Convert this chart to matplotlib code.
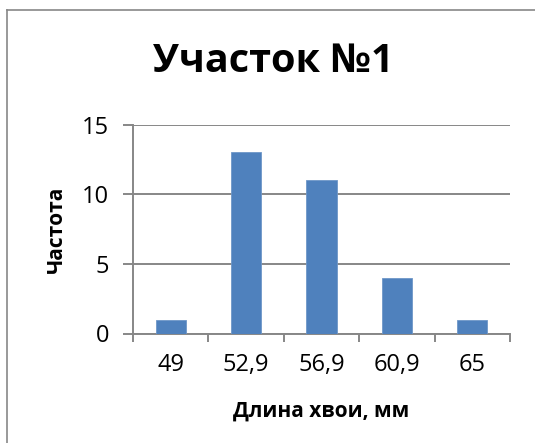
import matplotlib
matplotlib.use("Agg")
import matplotlib.pyplot as plt
from matplotlib.lines import Line2D

plt.rcParams['font.family'] = ['Open Sans', 'DejaVu Sans']

# data
categories = ["49", "52,9", "56,9", "60,9", "65"]
counts = [1, 13, 11, 4, 1]
y_ticks = [0, 5, 10, 15]

W, H = 535, 443
fig = plt.figure(figsize=(W / 100, H / 100), dpi=100)

# chart frame (left and top edges visible)
grey = "#878787"
fig.add_artist(Line2D([7 / W, 7 / W], [0, 1 - 10 / H], color=grey, lw=1.2,
                      transform=fig.transFigure))
fig.add_artist(Line2D([7 / W, 1], [1 - 10 / H, 1 - 10 / H], color=grey, lw=1.2,
                      transform=fig.transFigure))

ax = fig.add_axes([133 / W, (H - 333.5) / H, (510 - 133) / W, (333.5 - 124.6) / H])

x = list(range(len(categories)))
ax.bar(x, counts, width=0.4, color="#4F81BD", edgecolor="#6F97C8", lw=0.6, zorder=3)

ax.set_xlim(-0.5, len(categories) - 0.5)
ax.set_ylim(0, 15)
ax.set_yticks(y_ticks)
ax.yaxis.grid(True, color=grey, lw=1.4)
ax.set_axisbelow(True)

# category ticks sit between bars
ax.set_xticks([i - 0.5 for i in range(len(categories) + 1)])
ax.set_xticklabels([])
ax.set_xticks(x, minor=True)
ax.set_xticklabels(categories, minor=True)
ax.tick_params(axis="x", which="major", length=5.5, width=1.4, color=grey, direction="out")
ax.tick_params(axis="x", which="minor", length=0, pad=14, labelsize=17)
ax.tick_params(axis="y", length=7, width=1.4, color=grey, labelsize=17, pad=10)

for s in ["top", "right"]:
    ax.spines[s].set_visible(False)
for s in ["left", "bottom"]:
    ax.spines[s].set_color(grey)
    ax.spines[s].set_linewidth(1.4)

fig.text(273 / W, 1 - 61 / H, "Участок №1", ha="center", va="center",
         fontsize=28.5, fontweight="bold")
fig.text(56 / W, 1 - 229 / H, "Частота", ha="center", va="center",
         rotation=90, fontsize=15, fontweight="bold")
fig.text(321 / W, 1 - 411 / H, "Длина хвои, мм", ha="center", va="center",
         fontsize=15, fontweight="bold")

fig.savefig("out.png", dpi=100)
